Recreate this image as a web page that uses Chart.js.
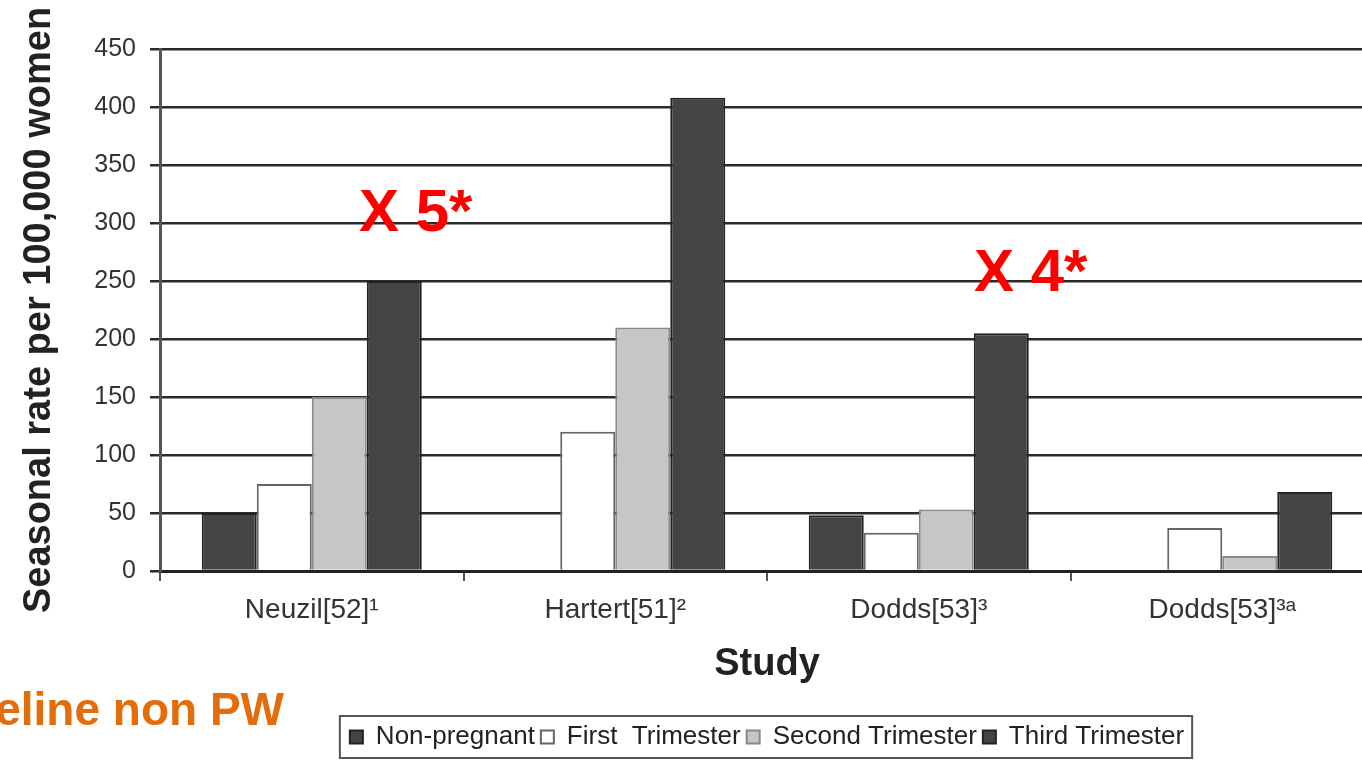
<!DOCTYPE html>
<html>
<head>
<meta charset="utf-8">
<script src="https://cdn.jsdelivr.net/npm/chart.js@4.4.1/dist/chart.umd.min.js"></script>
<style>
  html, body { margin: 0; padding: 0; background: #fff; overflow: hidden; }
  #wrap { width: 1380px; height: 760px; position: relative; }
</style>
</head>
<body>
<div id="wrap"><canvas id="rateChart"></canvas></div>
<script>
const studies = ['Neuzil[52]¹', 'Hartert[51]²', 'Dodds[53]³', 'Dodds[53]³ᵃ'];
const nonPregnant = [50, null, 48, null];
const firstTrimester = [75, 120, 33, 37];
const secondTrimester = [150, 210, 53, 13];
const thirdTrimester = [250, 408, 205, 68];
const yTicks = [0, 50, 100, 150, 200, 250, 300, 350, 400, 450];

const notes = [
  { text: 'X 5*', cat: 0, dx: 104, value: 307 },
  { text: 'X 4*', cat: 2, dx: 112, value: 256 }
];

const annotate = {
  id: 'annotate',
  afterDraw(chart) {
    const { ctx, scales: { x, y } } = chart;
    ctx.save();
    ctx.fillStyle = '#ff0000';
    ctx.font = 'bold 60px "Liberation Sans", Arial, sans-serif';
    ctx.textAlign = 'center';
    ctx.textBaseline = 'middle';
    notes.forEach(n => {
      ctx.fillText(n.text, x.getPixelForValue(n.cat) + n.dx, y.getPixelForValue(n.value));
    });
    ctx.fillStyle = '#e46c0a';
    ctx.font = 'bold 46px "Liberation Sans", Arial, sans-serif';
    ctx.textAlign = 'right';
    ctx.textBaseline = 'alphabetic';
    ctx.fillText('Baseline non PW', 284, 725);
    ctx.restore();
  }
};

// border round the legend
const legendFrame = {
  id: 'legendFrame',
  afterDraw(chart) {
    const boxes = chart.legend.legendHitBoxes;
    if (!boxes || !boxes.length) return;
    const left = Math.min(...boxes.map(b => b.left)) - 10;
    const right = Math.max(...boxes.map(b => b.left + b.width)) + 8;
    const mid = boxes[0].top + boxes[0].height / 2;
    const ctx = chart.ctx;
    ctx.save();
    ctx.strokeStyle = '#555';
    ctx.lineWidth = 2;
    ctx.strokeRect(left, mid - 21, right - left, 42);
    ctx.restore();
  }
};

new Chart(document.getElementById('rateChart'), {
  type: 'bar',
  data: {
    labels: studies,
    datasets: [{
      label: 'Non-pregnant',
      data: nonPregnant,
      backgroundColor: '#444444',
      borderColor: '#222222',
      borderWidth: 2
    }, {
      label: 'First  Trimester',
      data: firstTrimester,
      backgroundColor: '#ffffff',
      borderColor: '#666666',
      borderWidth: 2
    }, {
      label: 'Second Trimester',
      data: secondTrimester,
      backgroundColor: '#c6c6c6',
      borderColor: '#888888',
      borderWidth: 2
    }, {
      label: 'Third Trimester',
      data: thirdTrimester,
      backgroundColor: '#444444',
      borderColor: '#222222',
      borderWidth: 2
    }]
  },
  options: {
    responsive: true,
    maintainAspectRatio: false,
    animation: false,
    categoryPercentage: 0.725,
    barPercentage: 1,
    layout: { padding: { top: 49, right: 6, left: 0, bottom: 0 } },
    scales: {
      x: {
        afterFit: s => { s.height = 147; },
        grid: {
          display: true,
          drawOnChartArea: false,
          tickLength: 10,
          color: '#555',
          lineWidth: 2
        },
        border: { color: '#222', width: 3 },
        ticks: {
          color: '#333',
          padding: 12,
          font: { family: '"Liberation Sans", Arial, sans-serif', size: 28 }
        },
        title: {
          display: true,
          text: 'Study',
          color: '#222',
          font: { family: '"Liberation Sans", Arial, sans-serif', size: 38, weight: 'bold' },
          padding: { top: 0, bottom: 31 }
        }
      },
      y: {
        min: 0,
        max: 450,
        afterFit: s => { s.width = 160; },
        afterBuildTicks: s => { s.ticks = yTicks.map(v => ({ value: v })); },
        grid: {
          color: '#2a2a2a',
          lineWidth: 2.5,
          tickLength: 10
        },
        border: { color: '#555', width: 3 },
        ticks: {
          color: '#333',
          padding: 14,
          font: { family: '"Liberation Sans", Arial, sans-serif', size: 25 }
        },
        title: {
          display: true,
          text: 'Seasonal rate per 100,000 women',
          color: '#222',
          font: { family: '"Liberation Sans", Arial, sans-serif', size: 38, weight: 'bold' },
          padding: { top: 17, bottom: 0 }
        }
      }
    },
    plugins: {
      tooltip: { enabled: false },
      legend: {
        position: 'bottom',
        fullSize: false,
        labels: {
          color: '#222',
          boxWidth: 13,
          boxHeight: 13,
          padding: 6,
          font: { family: '"Liberation Sans", Arial, sans-serif', size: 26, lineHeight: 1 }
        }
      }
    }
  },
  plugins: [annotate, legendFrame]
});
</script>
</body>
</html>
